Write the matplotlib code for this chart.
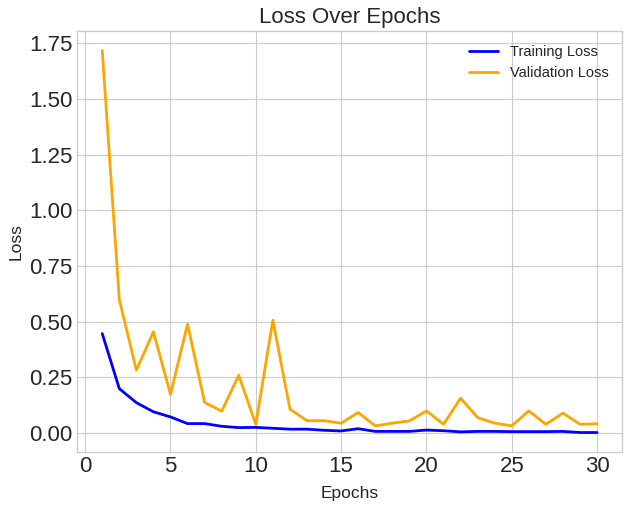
import matplotlib
matplotlib.use("Agg")
import matplotlib.pyplot as plt

plt.style.use("seaborn-v0_8-whitegrid")
plt.rcParams['font.family'] = ['Liberation Sans', 'DejaVu Sans']

epochs = list(range(1, 31))
training_loss = [0.447, 0.200, 0.137, 0.096, 0.073, 0.043, 0.043, 0.031, 0.025, 0.026,
                 0.022, 0.018, 0.018, 0.013, 0.010, 0.020, 0.008, 0.008, 0.008, 0.014,
                 0.011, 0.006, 0.008, 0.008, 0.007, 0.007, 0.007, 0.008, 0.003, 0.003]
validation_loss = [1.717, 0.600, 0.283, 0.455, 0.174, 0.490, 0.138, 0.099, 0.260, 0.040,
                   0.507, 0.108, 0.056, 0.056, 0.045, 0.093, 0.033, 0.045, 0.055, 0.100,
                   0.040, 0.157, 0.070, 0.045, 0.033, 0.100, 0.040, 0.090, 0.040, 0.042]

fig = plt.figure(figsize=(6.3, 5.08), dpi=100)
ax = fig.add_axes([0.123, 0.111, 0.864, 0.827])

ax.plot(epochs, training_loss, color='blue', linewidth=2, label='Training Loss')
ax.plot(epochs, validation_loss, color='orange', linewidth=2, label='Validation Loss')

ax.set_title('Loss Over Epochs', fontsize=16, color='0.15')
ax.set_xlabel('Epochs', fontsize=12.5, color='0.15', labelpad=6)
ax.set_ylabel('Loss', fontsize=12.5, color='0.15')
ax.tick_params(axis='both', labelsize=16, colors='0.15')
ax.legend(loc='upper right', fontsize=10.5, frameon=False)

fig.savefig('out.png', dpi=100)
